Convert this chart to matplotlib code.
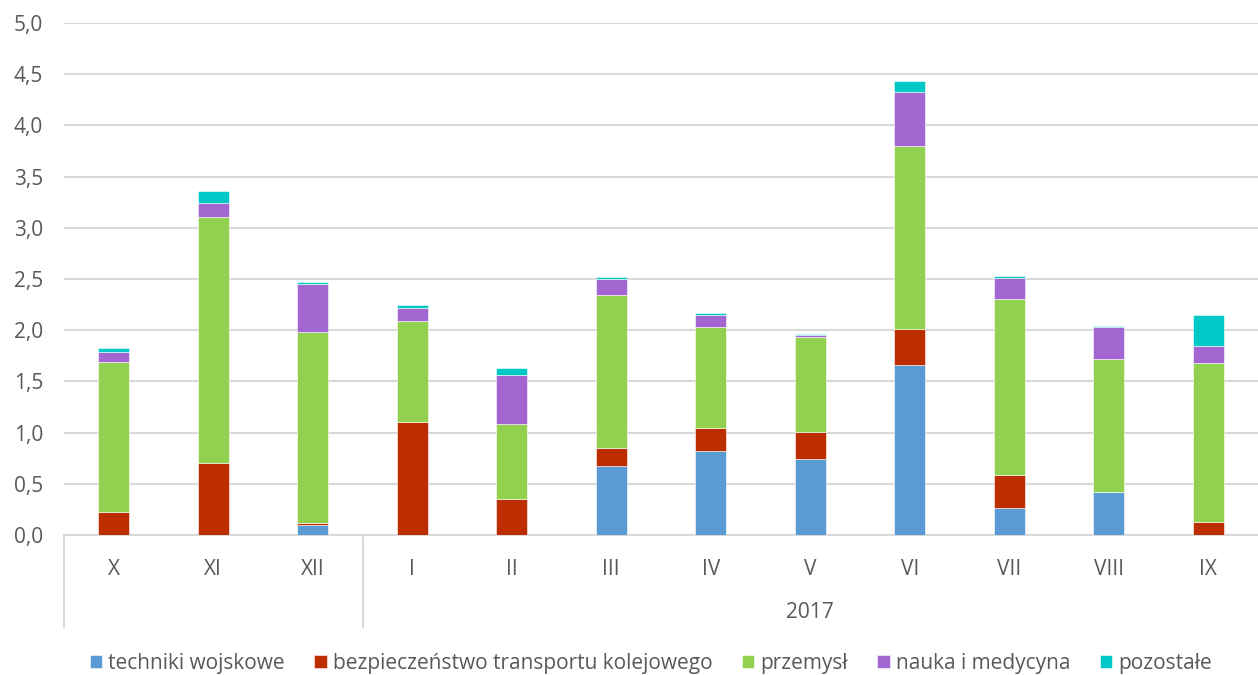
import matplotlib
matplotlib.use("Agg")
import matplotlib.pyplot as plt
import matplotlib.transforms as mtransforms
import numpy as np

months = ["X", "XI", "XII", "I", "II", "III", "IV", "V", "VI", "VII", "VIII", "IX"]
year_label = "2017"
series_names = ["techniki wojskowe", "bezpieczeństwo transportu kolejowego",
                "przemysł", "nauka i medycyna", "pozostałe"]
techniki = [0.0, 0.0, 0.095, 0.0, 0.0, 0.675, 0.82, 0.74, 1.665, 0.26, 0.42, 0.0]
transport = [0.22, 0.70, 0.025, 1.10, 0.355, 0.175, 0.225, 0.27, 0.35, 0.33, 0.0, 0.125]
przemysl = [1.47, 2.41, 1.86, 0.99, 0.725, 1.495, 0.985, 0.925, 1.78, 1.71, 1.30, 1.555]
nauka = [0.10, 0.135, 0.475, 0.13, 0.485, 0.155, 0.12, 0.022, 0.535, 0.21, 0.315, 0.165]
pozostale = [0.04, 0.11, 0.02, 0.03, 0.07, 0.015, 0.02, 0.005, 0.10, 0.02, 0.007, 0.30]
colors = ["#5B9BD5", "#BC2D00", "#92D050", "#A366D1", "#00C8C6"]
yticks = [0.0, 0.5, 1.0, 1.5, 2.0, 2.5, 3.0, 3.5, 4.0, 4.5, 5.0]

plt.rcParams['font.family'] = ['Open Sans', 'DejaVu Sans']
text_color = "#595959"
grid_color = "#D9D9D9"
fs = 15

fig = plt.figure(figsize=(12.58, 6.75), dpi=100)
ax = fig.add_axes([64/1258, 1-535/675, 1-64/1258, (535-23)/675])

x = np.arange(len(months))
bottom = np.zeros(len(months))
handles = []
for vals, name, c in zip([techniki, transport, przemysl, nauka, pozostale], series_names, colors):
    v = np.array(vals)
    b = ax.bar(x, v, 0.31, bottom=bottom, color=c, edgecolor="white", linewidth=0.4,
               label=name, zorder=3)
    handles.append(b)
    bottom += v

ax.set_xlim(-0.5, len(months) - 0.5)
ax.set_ylim(0, 5.0)
ax.set_yticks(yticks)
ax.set_yticklabels([f"{t:.1f}".replace(".", ",") for t in yticks])
ax.yaxis.grid(True, color=grid_color, linewidth=1.5, zorder=0)
ax.set_axisbelow(True)
for s in ["top", "right", "left"]:
    ax.spines[s].set_visible(False)
ax.spines["bottom"].set_color(grid_color)
ax.spines["bottom"].set_linewidth(1.5)
ax.tick_params(axis="y", length=0, labelsize=fs, labelcolor=text_color, pad=15)
ax.tick_params(axis="x", length=0, labelsize=fs, labelcolor=text_color, pad=17)
ax.set_xticks(x)
ax.set_xticklabels(months)

# multi-level category axis
trans = mtransforms.blended_transform_factory(ax.transData, ax.transAxes)
sep_bottom = -(627-535)/512
for xs in [-0.5, 2.5]:
    ax.plot([xs, xs], [0, sep_bottom], transform=trans, color=grid_color,
            linewidth=1.5, clip_on=False)
ax.text((2.5 + len(months) - 0.5) / 2, -(612-535)/512, year_label, transform=trans,
        ha="center", va="center", fontsize=fs, color=text_color)

leg = fig.legend(handles=handles, labels=series_names, loc="center", ncol=5,
                 bbox_to_anchor=(651/1258, 1-663/675), frameon=False, fontsize=fs,
                 handlelength=0.6, handleheight=0.6, handletextpad=0.3,
                 columnspacing=1.4)
for t in leg.get_texts():
    t.set_color(text_color)

fig.savefig("out.png", dpi=100)
